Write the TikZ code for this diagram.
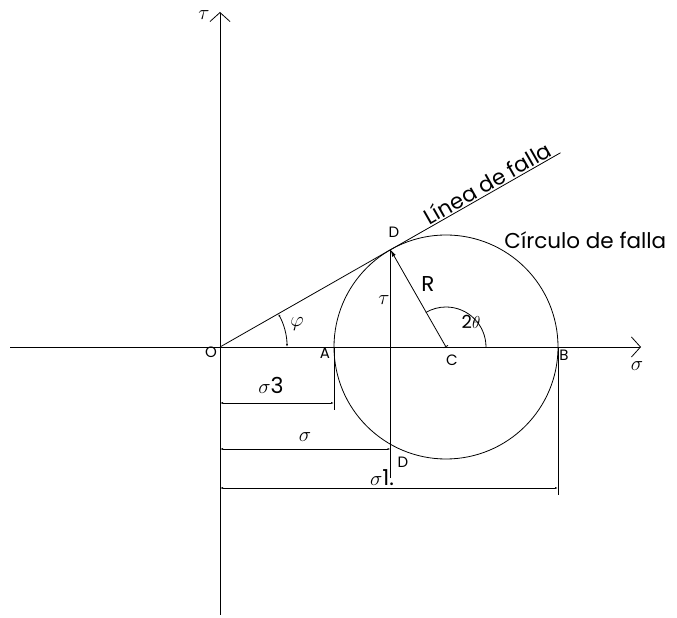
\documentclass[tikz,border=0pt]{standalone}
\usepackage{amsmath}
\usepackage{fontspec}
\setmainfont{Poppins}
\usetikzlibrary{arrows.meta,calc}

\begin{document}
\begin{tikzpicture}[x=1pt, y=1pt, line width=0.8pt,
			lbl/.style={font=\fontsize{15}{18}\selectfont, inner sep=1pt},
			big/.style={font=\fontsize{21.5}{24}\selectfont, inner sep=1pt},
			sym/.style={font=\fontsize{22}{26}\selectfont, inner sep=1pt},
			axis/.style={-{Straight Barb[length=9pt,width=20pt,line width=0.8pt]}},
			dim/.style={{Latex[length=3pt,width=2pt]}-{Latex[length=3pt,width=2pt]}, line width=0.6pt},
			arrow/.style={{Bar[width=5pt]}-{Latex[length=7pt,width=4pt]}}]
			
			\useasboundingbox (0,0) rectangle (677,618);
			
			\coordinate (O) at (220,271);
			\coordinate (C) at (446,271);
			\coordinate (A) at (334,271);
			\coordinate (B) at (558,271);
			\coordinate (D) at ($(O)+(29.7:196.3)$);
			\coordinate (F) at ($(O)+(29.7:392)$);
			\coordinate (xl) at (10,271);
			\coordinate (xr) at (641,271);
			\coordinate (yb) at (220,3);
			\coordinate (yt) at (220,606);
			\coordinate (Dd) at (D |- 0,140);
			\coordinate (Ad) at (334,208);
			\coordinate (Bd) at (558,123);
			\coordinate (s3a) at (220,215);
			\coordinate (s3b) at (A |- s3a);
			\coordinate (sa) at (220,169);
			\coordinate (sb) at (D |- sa);
			\coordinate (s1a) at (220,130);
			\coordinate (s1b) at (B |- s1a);
			
			\draw[axis] (xl) -- (xr);
			\draw[axis] (yb) -- (yt);
			\draw (C) circle[radius=112pt];
			\draw (O) -- (F) node[pos=0.8, sloped, above, big] {Línea de falla};
			\draw (D) -- (Dd);
			\draw[arrow] (C) -- (D);
			\draw (A) -- (Ad);
			\draw (B) -- (Bd);
			\draw[{Latex[length=3pt,width=2pt]}-{Latex[length=3pt,width=2pt]}] ($(O)+(67,0)$) arc[start angle=0, end angle=29.7, radius=67pt];
			\draw ($(C)+(40,0)$) arc[start angle=0, end angle=120.3, radius=40pt];
			
			\draw[dim] (s3a) -- (s3b);
			\draw[dim] (sa) -- (sb);
			\draw[dim] (s1a) -- (s1b);
			
			\node[sym] (tau) at (204,603) {$\tau$};
			\node[sym] (sig) at (637,252) {$\sigma$};
			\node[lbl] (o) at (211,266) {O};
			\node[lbl] (a) at (325,265) {A};
			\node[lbl] (c) at (452,258) {C};
			\node[lbl] (b) at (564,263) {B};
			\node[lbl] (d1) at (394,386) {D};
			\node[lbl] (d2) at (403,156) {D};
			\node[big] (r) at (428,334) {R};
			\node[sym] (t) at (384,318) {$\tau$};
			\node[lbl, font=\fontsize{18}{20}\selectfont] (th) at (471,296) {2$\theta$};
			\node[sym] (phi) at (297,294) {$\varphi$};
			\node[big, anchor=west] (circ) at (503,378) {Círculo de falla};
			\node[sym] (s3) at (271,233) {$\sigma$3};
			\node[sym] (s) at (305,181) {$\sigma$};
			\node[sym] (s1) at (382,140) {$\sigma$1.};
			
		\end{tikzpicture}
\end{document}
